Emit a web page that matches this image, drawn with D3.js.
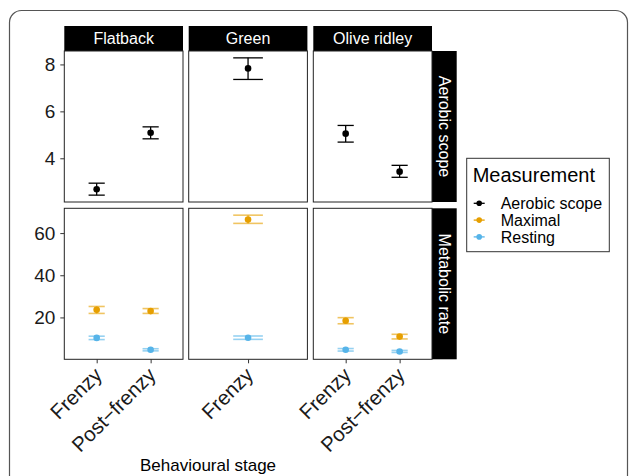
<!doctype html>
<html lang="en">
<head>
<meta charset="utf-8" />
<title>Aerobic scope and metabolic rate by species</title>
<script src="https://d3js.org/d3.v7.min.js"></script>
<style>
  body { margin: 0; background: #fff; }
  svg text { font-family: "Liberation Sans", Arial, sans-serif; }
</style>
</head>
<body>
<svg></svg>
<script>
// data
const species = ["Flatback", "Green", "Olive ridley"];
const stages = [["Frenzy", "Post\u2212frenzy"], ["Frenzy"], ["Frenzy", "Post\u2212frenzy"]];
const rowLabels = ["Aerobic scope", "Metabolic rate"];
const measurements = ["Aerobic scope", "Maximal", "Resting"];
const measureColors = ["#000000", "#E69F00", "#56B4E9"];

// rows: Flatback Frenzy, Flatback Post-frenzy, Green Frenzy, Olive Frenzy, Olive Post-frenzy
const rowSpecies = [0, 0, 1, 2, 2];
const rowStage = [0, 1, 0, 0, 1];

const aerobicMean = [2.68, 5.09, 7.83, 5.05, 3.43];
const aerobicLo = [2.43, 4.83, 7.36, 4.69, 3.19];
const aerobicHi = [2.94, 5.34, 8.28, 5.40, 3.70];

const maximalMean = [23.6, 23.0, 66.4, 18.4, 10.9];
const maximalLo = [21.9, 21.9, 64.6, 17.0, 9.8];
const maximalHi = [25.2, 24.2, 68.5, 19.9, 12.0];

const restingMean = [10.3, 4.65, 10.4, 4.65, 3.86];
const restingLo = [9.5, 4.15, 9.6, 4.05, 3.40];
const restingHi = [11.1, 5.15, 11.2, 5.25, 4.35];

const yTicksTop = [4, 6, 8];
const yTicksBottom = [20, 40, 60];

// build long table
const table = [];
rowSpecies.forEach((s, i) => {
    table.push({ row: 0, sp: s, stage: stages[s][rowStage[i]], m: 0, y: aerobicMean[i], lo: aerobicLo[i], hi: aerobicHi[i] });
    table.push({ row: 1, sp: s, stage: stages[s][rowStage[i]], m: 1, y: maximalMean[i], lo: maximalLo[i], hi: maximalHi[i] });
    table.push({ row: 1, sp: s, stage: stages[s][rowStage[i]], m: 2, y: restingMean[i], lo: restingLo[i], hi: restingHi[i] });
});

let width = 630, height = 476;
const panelX = [64.3, 188.7, 313.3], panelW = 118.7;
const panelY = [51, 208.3], panelH = 151;
const stripH = 25, stripW = 24.7;

const svg = d3.select("svg").attr("width", width).attr("height", height);

// outer rounded frame
svg.append("rect")
    .attr("x", 9.5).attr("y", 10.5)
    .attr("width", 618).attr("height", 520)
    .attr("rx", 12)
    .attr("fill", "none")
    .attr("stroke", "#555")
    .attr("stroke-width", 1.2);

// y scales per row (free), 5% expansion
const yScales = [0, 1].map(r => {
    const rows = table.filter(d => d.row === r);
    const lo = d3.min(rows, d => d.lo), hi = d3.max(rows, d => d.hi);
    const pad = (hi - lo) * 0.05;
    return d3.scaleLinear().domain([lo - pad, hi + pad]).range([panelY[r] + panelH, panelY[r]]);
});

const xScales = species.map((s, c) => d3.scalePoint()
    .domain(stages[c])
    .range([panelX[c], panelX[c] + panelW])
    .padding(0.6));

// strips on top
species.forEach((s, c) => {
    svg.append("rect")
        .attr("x", panelX[c]).attr("y", panelY[0] - stripH)
        .attr("width", panelW).attr("height", stripH)
        .attr("fill", "#000");
    svg.append("text")
        .attr("x", panelX[c] + panelW / 2).attr("y", panelY[0] - stripH / 2)
        .attr("dy", "0.36em")
        .attr("text-anchor", "middle")
        .attr("fill", "#fff")
        .attr("font-size", 16)
        .text(s);
});

// strips on right
rowLabels.forEach((lab, r) => {
    const sx = panelX[2] + panelW;
    svg.append("rect")
        .attr("x", sx).attr("y", panelY[r])
        .attr("width", stripW).attr("height", panelH)
        .attr("fill", "#000");
    svg.append("text")
        .attr("transform", `translate(${sx + stripW / 2},${panelY[r] + panelH / 2}) rotate(90)`)
        .attr("dy", "0.36em")
        .attr("text-anchor", "middle")
        .attr("fill", "#fff")
        .attr("font-size", 16)
        .text(lab);
});

// panels
[0, 1].forEach(r => {
    species.forEach((s, c) => {
        const g = svg.append("g");
        const x = xScales[c], y = yScales[r];
        const step = x.step();
        const rows = table.filter(d => d.row === r && d.sp === c);

        const bars = g.selectAll("g.eb").data(rows).enter().append("g")
            .attr("stroke", d => measureColors[d.m])
            .attr("stroke-opacity", d => d.m === 0 ? 1 : 0.62)
            .attr("stroke-width", d => d.m === 0 ? 1.3 : 1.6)
            .attr("fill", "none");
        bars.append("line")
            .attr("x1", d => x(d.stage)).attr("x2", d => x(d.stage))
            .attr("y1", d => y(d.lo)).attr("y2", d => y(d.hi));
        bars.append("line")
            .attr("x1", d => x(d.stage) - step * 0.15).attr("x2", d => x(d.stage) + step * 0.15)
            .attr("y1", d => y(d.lo)).attr("y2", d => y(d.lo));
        bars.append("line")
            .attr("x1", d => x(d.stage) - step * 0.15).attr("x2", d => x(d.stage) + step * 0.15)
            .attr("y1", d => y(d.hi)).attr("y2", d => y(d.hi));

        g.selectAll("circle").data(rows).enter().append("circle")
            .attr("cx", d => x(d.stage))
            .attr("cy", d => y(d.y))
            .attr("r", 3.3)
            .attr("fill", d => measureColors[d.m]);

        g.append("rect")
            .attr("x", panelX[c]).attr("y", panelY[r])
            .attr("width", panelW).attr("height", panelH)
            .attr("fill", "none")
            .attr("stroke", "#222")
            .attr("stroke-width", 1);

        // x axis only on bottom row
        if (r === 1) {
            const ax = svg.append("g")
                .attr("transform", `translate(0,${panelY[1] + panelH})`)
                .call(d3.axisBottom(x).tickSize(4).tickSizeOuter(0));
            ax.select(".domain").remove();
            ax.selectAll(".tick line").attr("stroke", "#333");
            ax.selectAll(".tick text")
                .attr("x", 0).attr("y", 0).attr("dy", 0)
                .attr("transform", "translate(6,17) rotate(-45)")
                .attr("text-anchor", "end")
                .attr("fill", "#1a1a1a")
                .attr("font-size", 20.5)
                .attr("font-family", null);
        }
    });

    // y axis on the left
    const ay = svg.append("g")
        .attr("transform", `translate(${panelX[0]},0)`)
        .call(d3.axisLeft(yScales[r])
            .tickValues(r === 0 ? yTicksTop : yTicksBottom)
            .tickFormat(d3.format("d"))
            .tickSize(4).tickPadding(5));
    ay.select(".domain").remove();
    ay.selectAll(".tick line").attr("stroke", "#333");
    ay.selectAll(".tick text")
        .attr("fill", "#1a1a1a")
        .attr("font-size", 19)
        .attr("font-family", null);
});

// x axis title
svg.append("text")
    .attr("x", 208).attr("y", 471)
    .attr("text-anchor", "middle")
    .attr("font-size", 17)
    .attr("fill", "#000")
    .text("Behavioural stage");

// legend
const legend = svg.append("g").attr("transform", "translate(466.7,158.3)");
legend.append("rect")
    .attr("width", 142.6).attr("height", 93.4)
    .attr("fill", "#fff")
    .attr("stroke", "#333")
    .attr("stroke-width", 1);
legend.append("text")
    .attr("x", 6).attr("y", 24)
    .attr("font-size", 20)
    .text("Measurement");
const items = legend.selectAll("g.item").data(measurements).enter().append("g")
    .attr("transform", (d, i) => `translate(0,${45 + i * 16.8})`);
items.append("line")
    .attr("x1", 7).attr("x2", 18)
    .attr("stroke", (d, i) => measureColors[i])
    .attr("stroke-width", 1.3);
items.append("circle")
    .attr("cx", 12.5).attr("r", 2.8)
    .attr("fill", (d, i) => measureColors[i]);
items.append("text")
    .attr("x", 34).attr("dy", "0.36em")
    .attr("font-size", 16)
    .text(d => d);
</script>
</body>
</html>
